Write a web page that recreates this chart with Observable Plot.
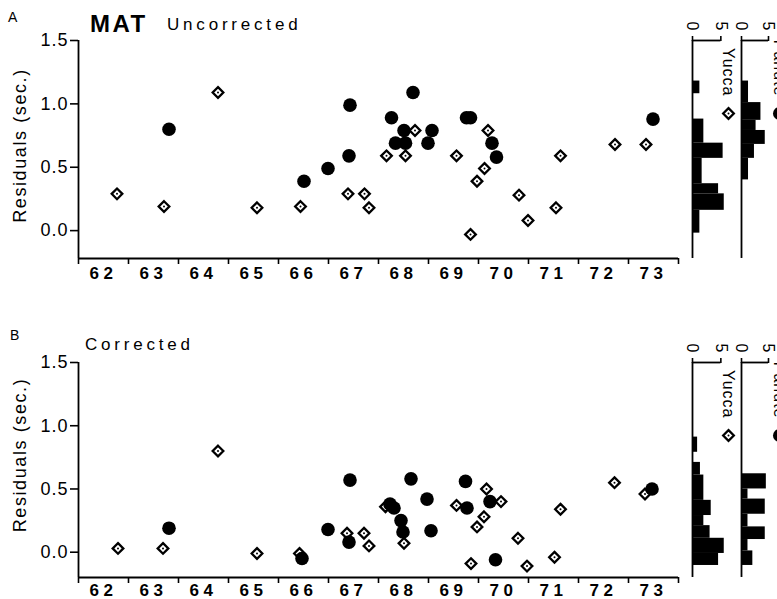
<!DOCTYPE html>
<html><head><meta charset="utf-8">
<script src="https://cdn.jsdelivr.net/npm/d3@7"></script>
<script src="https://cdn.jsdelivr.net/npm/@observablehq/plot@0.6"></script>
<style>
html,body{margin:0;padding:0;background:#fff;overflow:hidden;}
#wrap{position:relative;width:777px;height:599px;overflow:hidden;font-family:"Liberation Sans",Arial,sans-serif;}
#wrap > svg, #wrap > .abs{position:absolute;}
.mainplot g[aria-label="y-axis tick label"]{font-size:18px;letter-spacing:1px;}
.mainplot g[aria-label="x-axis tick label"]{font-size:17px;letter-spacing:4.5px;font-weight:bold;}
.mainplot g[aria-label="text"]{letter-spacing:1.6px;}
.histplot g[aria-label="text"]{letter-spacing:1px;}
</style></head>
<body><div id="wrap">
<svg class="abs" width="777" height="599" style="left:0;top:0" font-family="Liberation Sans, Arial, sans-serif">
  <text x="8" y="22" font-size="14">A</text>
  <text x="90" y="32" font-size="24" font-weight="bold" letter-spacing="2.5">MAT</text>
  <text x="167" y="30" font-size="17" letter-spacing="3.8">Uncorrected</text>
  <text x="10" y="340" font-size="14">B</text>
  <text x="85" y="350" font-size="17" letter-spacing="3.8">Corrected</text>
</svg>
</div>
<script>
// ---- axis values ----
const yearTicks = [62,63,64,65,66,67,68,69,70,71,72,73,74];
const yearLabels = [62,63,64,65,66,67,68,69,70,71,72,73];
const resTicks = [0, 0.5, 1.0, 1.5];
const countTicks = [0, 5];

// ---- Panel A (uncorrected) ----
const pahuteA_year = [63.81,66.51,66.99,67.43,67.41,68.26,68.34,68.51,68.54,68.69,69.07,68.99,69.76,69.84,70.27,70.36,73.49];
const pahuteA_res  = [0.80,0.39,0.49,0.99,0.59,0.89,0.69,0.79,0.69,1.09,0.79,0.69,0.89,0.89,0.69,0.58,0.88];
const yuccaA_year = [62.77,63.71,64.79,65.57,66.44,67.39,67.72,67.81,68.16,68.54,68.73,69.56,69.84,69.97,70.12,70.19,70.81,70.99,71.55,71.64,72.73,73.35];
const yuccaA_res  = [0.29,0.19,1.09,0.18,0.19,0.29,0.29,0.18,0.59,0.59,0.79,0.59,-0.03,0.39,0.49,0.79,0.28,0.08,0.18,0.59,0.68,0.68];

// ---- Panel B (corrected) ----
const pahuteB_year = [63.81,66.47,66.99,67.43,67.41,68.23,68.31,68.45,68.49,68.65,68.97,69.05,69.74,69.77,70.23,70.34,73.47];
const pahuteB_res  = [0.19,-0.05,0.18,0.57,0.08,0.38,0.35,0.25,0.16,0.58,0.42,0.17,0.56,0.35,0.40,-0.06,0.50];
const yuccaB_year = [62.79,63.69,64.79,65.57,66.42,67.37,67.71,67.81,68.14,68.51,69.56,69.85,69.97,70.11,70.16,70.45,70.79,70.97,71.52,71.64,72.72,73.33];
const yuccaB_res  = [0.03,0.03,0.80,-0.01,-0.01,0.15,0.15,0.05,0.36,0.07,0.37,-0.09,0.20,0.28,0.50,0.40,0.11,-0.11,-0.04,0.34,0.55,0.46];

// ---- Histograms (residual bin edges, counts) ----
const yuccaA_lo = [1.08, 0.69, 0.57, 0.37, 0.29, 0.16, -0.02];
const yuccaA_hi = [1.18, 0.88, 0.69, 0.57, 0.37, 0.29, 0.16];
const yuccaA_n  = [1.3, 2.0, 5.4, 1.7, 4.6, 5.6, 1.3];
const pahuteA_lo = [1.01, 0.87, 0.79, 0.68, 0.57, 0.40];
const pahuteA_hi = [1.18, 1.01, 0.87, 0.79, 0.68, 0.57];
const pahuteA_n  = [1.3, 3.6, 2.7, 4.4, 2.4, 1.3];
const yuccaB_lo = [0.79, 0.61, 0.41, 0.29, 0.21, 0.11, -0.01, -0.105];
const yuccaB_hi = [0.91, 0.71, 0.61, 0.41, 0.29, 0.21, 0.11, -0.01];
const yuccaB_n  = [0.9, 1.4, 2.0, 3.3, 2.0, 3.1, 5.6, 4.6];
const pahuteB_lo = [0.50, 0.42, 0.30, 0.20, 0.10, 0.01, -0.105];
const pahuteB_hi = [0.62, 0.50, 0.42, 0.30, 0.20, 0.10, 0.01];
const pahuteB_n  = [4.6, 1.2, 4.4, 1.2, 4.4, 1.2, 2.1];

const pts = (xs, ys) => xs.map((x, i) => ({x, y: ys[i]}));
const bins = (lo, hi, n) => lo.map((l, i) => ({lo: l, hi: hi[i], n: n[i]}));

const baseStyle = {fontFamily: "Liberation Sans, Arial, sans-serif", fontSize: "18px", background: "transparent", overflow: "visible", color: "black"};
const wrap = document.getElementById("wrap");

function mainPlot({yucca, pahute, yMin, height, marginBottom, labelDy, top, xPad}) {
  const yMax = resTicks[resTicks.length - 1];
  const xMin = yearTicks[0], xMax = yearTicks[yearTicks.length - 1];
  const svg = Plot.plot({
    width: 690, height, marginLeft: 78, marginRight: 12, marginTop: 40, marginBottom,
    className: "mainplot",
    x: {domain: [xMin, xMax]},
    y: {domain: [yMin, yMax]},
    style: baseStyle,
    marks: [
      Plot.ruleX([xMin], {y1: yMin, y2: yMax, strokeWidth: 1.8}),
      Plot.ruleY([yMin], {x1: xMin, x2: xMax, strokeWidth: 1.8}),
      Plot.axisY({ticks: resTicks, tickSize: 8, tickPadding: 2, tickFormat: d3.format(".1f"), label: null, strokeWidth: 1.6}),
      Plot.axisX({ticks: yearTicks, tickSize: 6, tickFormat: () => "", label: null, strokeWidth: 1.6}),
      Plot.axisX({ticks: yearLabels.map(d => d + 0.5), tickSize: 0, tickPadding: xPad, tickFormat: d => String(Math.floor(d)), label: null}),
      Plot.text(["Residuals (sec.)"], {frameAnchor: "left", dx: -58, dy: labelDy, rotate: -90, textAnchor: "middle", lineAnchor: "middle", text: d => d, fontSize: 18}),
      Plot.dot(yucca, {x: "x", y: "y", symbol: "diamond2", r: 4.8, stroke: "black", strokeWidth: 2.3, fill: "white"}),
      Plot.dot(yucca, {x: "x", y: "y", r: 1, fill: "black"}),
      Plot.dot(pahute, {x: "x", y: "y", r: 6.8, fill: "black"})
    ]
  });
  svg.style.left = "0px"; svg.style.top = top + "px"; svg.style.position = "absolute";
  wrap.appendChild(svg);
}

function histPlot({data, yMin, height, marginBottom, pxPerCount, left, top, legend, isCircle, legendDx}) {
  const yMax = resTicks[resTicks.length - 1];
  const maxC = 6;
  const marks = [
    Plot.rectX(data, {x1: 0, x2: "n", y1: "lo", y2: "hi", fill: "black"}),
    Plot.ruleX([0], {y1: yMin, y2: yMax, strokeWidth: 1.8}),
    Plot.ruleY([yMax], {x1: countTicks[0], x2: countTicks[1], strokeWidth: 1.8}),
    Plot.axisX({anchor: "top", ticks: countTicks, tickSize: 5, tickFormat: () => "", label: null, strokeWidth: 1.6}),
    Plot.text(countTicks, {x: d => d, frameAnchor: "top", dy: -14, rotate: 90, textAnchor: "middle", lineAnchor: "middle", text: d => String(d), fontSize: 16}),
    Plot.text([legend], {frameAnchor: "top-left", dx: legendDx, dy: 56, rotate: 90, textAnchor: "end", lineAnchor: "middle", text: d => d, fontSize: 16})
  ];
  if (isCircle) {
    marks.push(Plot.dot([legend], {frameAnchor: "top-left", dx: legendDx, dy: 73, r: 6.5, fill: "black"}));
  } else {
    marks.push(Plot.dot([legend], {frameAnchor: "top-left", dx: legendDx, dy: 73, symbol: "diamond2", r: 4.8, stroke: "black", strokeWidth: 2.3, fill: "white"}));
    marks.push(Plot.dot([legend], {frameAnchor: "top-left", dx: legendDx, dy: 73, r: 1, fill: "black"}));
  }
  const svg = Plot.plot({
    width: 20 + pxPerCount * maxC + 40, height, marginLeft: 20, marginRight: 40, marginTop: 40, marginBottom,
    className: "histplot",
    x: {domain: [0, maxC]},
    y: {domain: [yMin, yMax], axis: null},
    style: baseStyle,
    marks
  });
  svg.style.left = left + "px"; svg.style.top = top + "px"; svg.style.position = "absolute";
  wrap.appendChild(svg);
}

// Panel A
mainPlot({yucca: pts(yuccaA_year, yuccaA_res), pahute: pts(pahuteA_year, pahuteA_res), yMin: -0.22, height: 290, marginBottom: 32, labelDy: -4, top: 0, xPad: 8});
histPlot({data: bins(yuccaA_lo, yuccaA_hi, yuccaA_n), yMin: -0.22, height: 290, marginBottom: 32, pxPerCount: 5.67, left: 672, top: 0, legend: "Yucca", isCircle: false, legendDx: 36});
histPlot({data: bins(pahuteA_lo, pahuteA_hi, pahuteA_n), yMin: -0.22, height: 290, marginBottom: 32, pxPerCount: 5.4, left: 721, top: 0, legend: "Pahute", isCircle: true, legendDx: 38});

// Panel B
mainPlot({yucca: pts(yuccaB_year, yuccaB_res), pahute: pts(pahuteB_year, pahuteB_res), yMin: -0.2, height: 277, marginBottom: 22, labelDy: -15, top: 322, xPad: 6});
histPlot({data: bins(yuccaB_lo, yuccaB_hi, yuccaB_n), yMin: -0.2, height: 277, marginBottom: 22, pxPerCount: 5.67, left: 672, top: 322, legend: "Yucca", isCircle: false, legendDx: 36});
histPlot({data: bins(pahuteB_lo, pahuteB_hi, pahuteB_n), yMin: -0.2, height: 277, marginBottom: 22, pxPerCount: 5.4, left: 721, top: 322, legend: "Pahute", isCircle: true, legendDx: 38});
</script>
</body></html>
